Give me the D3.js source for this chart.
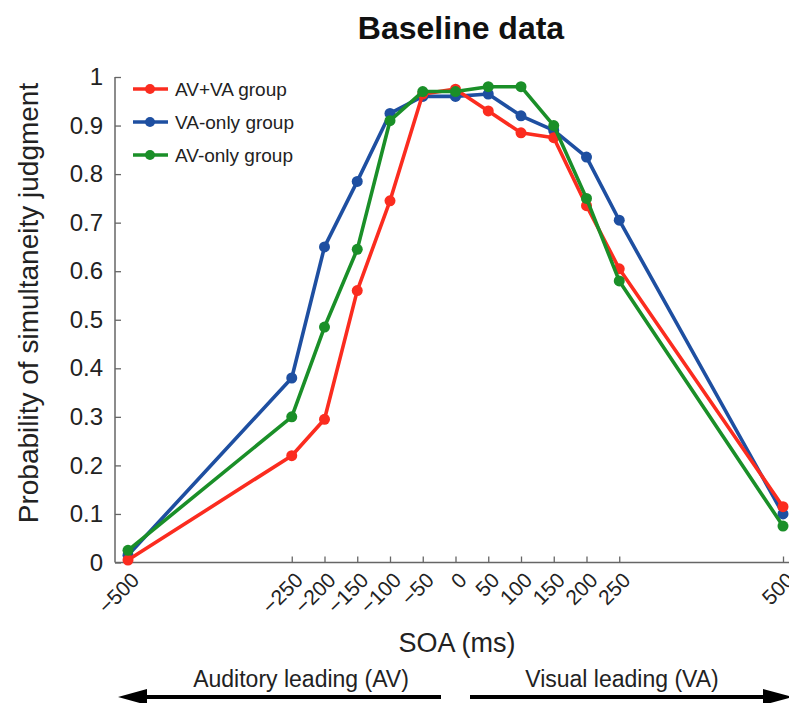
<!DOCTYPE html>
<html>
<head>
<meta charset="utf-8">
<script src="https://cdn.jsdelivr.net/npm/d3@7"></script>
<style>
  body { margin: 0; background: #fff; }
  svg { display: block; font-family: "Liberation Sans", Arial, sans-serif; }
</style>
</head>
<body>
<script>
// SOA values (ms) and group curves
const soa = [-500, -250, -200, -150, -100, -50, 0, 50, 100, 150, 200, 250, 500];
const avVa   = [0.005, 0.22, 0.295, 0.56, 0.745, 0.965, 0.975, 0.93, 0.885, 0.875, 0.735, 0.605, 0.115];
const vaOnly = [0.015, 0.38, 0.65, 0.785, 0.925, 0.96, 0.96, 0.965, 0.92, 0.89, 0.835, 0.705, 0.10];
const avOnly = [0.025, 0.30, 0.485, 0.645, 0.91, 0.97, 0.97, 0.98, 0.98, 0.90, 0.75, 0.58, 0.075];
const seriesNames = ["AV+VA group", "VA-only group", "AV-only group"];
const xTicks = [-500, -250, -200, -150, -100, -50, 0, 50, 100, 150, 200, 250, 500];
const yTicks = [0, 0.1, 0.2, 0.3, 0.4, 0.5, 0.6, 0.7, 0.8, 0.9, 1];

const colors = { "AV+VA group": "#fb2c1f", "VA-only group": "#1e4fa1", "AV-only group": "#1a8f28" };

const W = 789, H = 703;
const svg = d3.select("body").append("svg")
    .attr("width", W)
    .attr("height", H);

const x = d3.scaleLinear().domain([-500, 500]).range([128, 783]);
const y = d3.scaleLinear().domain([0, 1]).range([562.5, 77]);
const axisX = 115;

// title
svg.append("text")
    .attr("x", 461).attr("y", 39)
    .attr("text-anchor", "middle")
    .attr("font-size", 32).attr("font-weight", "bold")
    .attr("fill", "#111")
    .text("Baseline data");

// y axis
const gy = svg.append("g")
    .attr("transform", `translate(${axisX},0)`)
    .call(d3.axisLeft(y).tickValues(yTicks).tickSize(-6).tickPadding(12).tickFormat(d => String(d)));
gy.select(".domain").remove();
gy.selectAll(".tick line").attr("stroke", "#666").attr("stroke-width", 1.3);
gy.selectAll(".tick text").attr("font-size", 24).attr("fill", "#222").attr("font-family", null);
gy.append("line")
    .attr("x1", 0).attr("x2", 0)
    .attr("y1", y(1)).attr("y2", y(0))
    .attr("stroke", "#666").attr("stroke-width", 1.5);

// x axis
const gx = svg.append("g")
    .attr("transform", `translate(0,${y(0)})`)
    .call(d3.axisBottom(x).tickValues(xTicks).tickSize(-6).tickFormat(d3.format("d")));
gx.select(".domain").remove();
gx.selectAll(".tick line").attr("stroke", "#666").attr("stroke-width", 1.3);
gx.selectAll(".tick text")
    .attr("font-size", 21).attr("fill", "#222").attr("font-family", null)
    .attr("x", 0).attr("y", 0).attr("dy", 0)
    .attr("text-anchor", "end")
    .attr("transform", "translate(12,19) rotate(-45)");
gx.append("line")
    .attr("x1", axisX).attr("x2", W)
    .attr("y1", 0).attr("y2", 0)
    .attr("stroke", "#666").attr("stroke-width", 1.5);

// axis labels
svg.append("text")
    .attr("transform", `translate(38,303) rotate(-90)`)
    .attr("text-anchor", "middle")
    .attr("font-size", 28).attr("fill", "#222")
    .text("Probability of simultaneity judgment");

svg.append("text")
    .attr("x", 457).attr("y", 652)
    .attr("text-anchor", "middle")
    .attr("font-size", 27).attr("fill", "#222")
    .text("SOA (ms)");

// data lines
const data = [
    { name: "VA-only group", values: vaOnly },
    { name: "AV+VA group", values: avVa },
    { name: "AV-only group", values: avOnly }
];

const line = d3.line()
    .x((d, i) => x(soa[i]))
    .y(d => y(d));

data.forEach(s => {
    const g = svg.append("g");
    g.append("path")
        .datum(s.values)
        .attr("fill", "none")
        .attr("stroke", colors[s.name])
        .attr("stroke-width", 3.6)
        .attr("stroke-linejoin", "round")
        .attr("d", line);
    g.selectAll("circle")
        .data(s.values)
        .enter().append("circle")
        .attr("cx", (d, i) => x(soa[i]))
        .attr("cy", d => y(d))
        .attr("r", 5.5)
        .attr("fill", colors[s.name]);
});

// legend
const legend = svg.append("g");
seriesNames.forEach((name, i) => {
    const ly = 89 + i * 33;
    legend.append("line")
        .attr("x1", 133).attr("x2", 168)
        .attr("y1", ly).attr("y2", ly)
        .attr("stroke", colors[name]).attr("stroke-width", 3.6);
    legend.append("circle")
        .attr("cx", 150).attr("cy", ly).attr("r", 5)
        .attr("fill", colors[name]);
    legend.append("text")
        .attr("x", 175).attr("y", ly + 7)
        .attr("font-size", 19).attr("fill", "#222")
        .text(name);
});

// leading direction arrows
const arrowY = 697;
svg.append("line")
    .attr("x1", 140).attr("x2", 441)
    .attr("y1", arrowY).attr("y2", arrowY)
    .attr("stroke", "#000").attr("stroke-width", 4);
svg.append("path")
    .attr("d", `M118,${arrowY} L147,${arrowY - 8} L147,${arrowY + 8} Z`)
    .attr("fill", "#000");
svg.append("line")
    .attr("x1", 470).attr("x2", 770)
    .attr("y1", arrowY).attr("y2", arrowY)
    .attr("stroke", "#000").attr("stroke-width", 4);
svg.append("path")
    .attr("d", `M793,${arrowY} L763,${arrowY - 8} L763,${arrowY + 8} Z`)
    .attr("fill", "#000");

svg.append("text")
    .attr("x", 301).attr("y", 687)
    .attr("text-anchor", "middle")
    .attr("font-size", 23).attr("fill", "#222")
    .text("Auditory leading (AV)");
svg.append("text")
    .attr("x", 622).attr("y", 687)
    .attr("text-anchor", "middle")
    .attr("font-size", 23).attr("fill", "#222")
    .text("Visual leading (VA)");
</script>
</body>
</html>
